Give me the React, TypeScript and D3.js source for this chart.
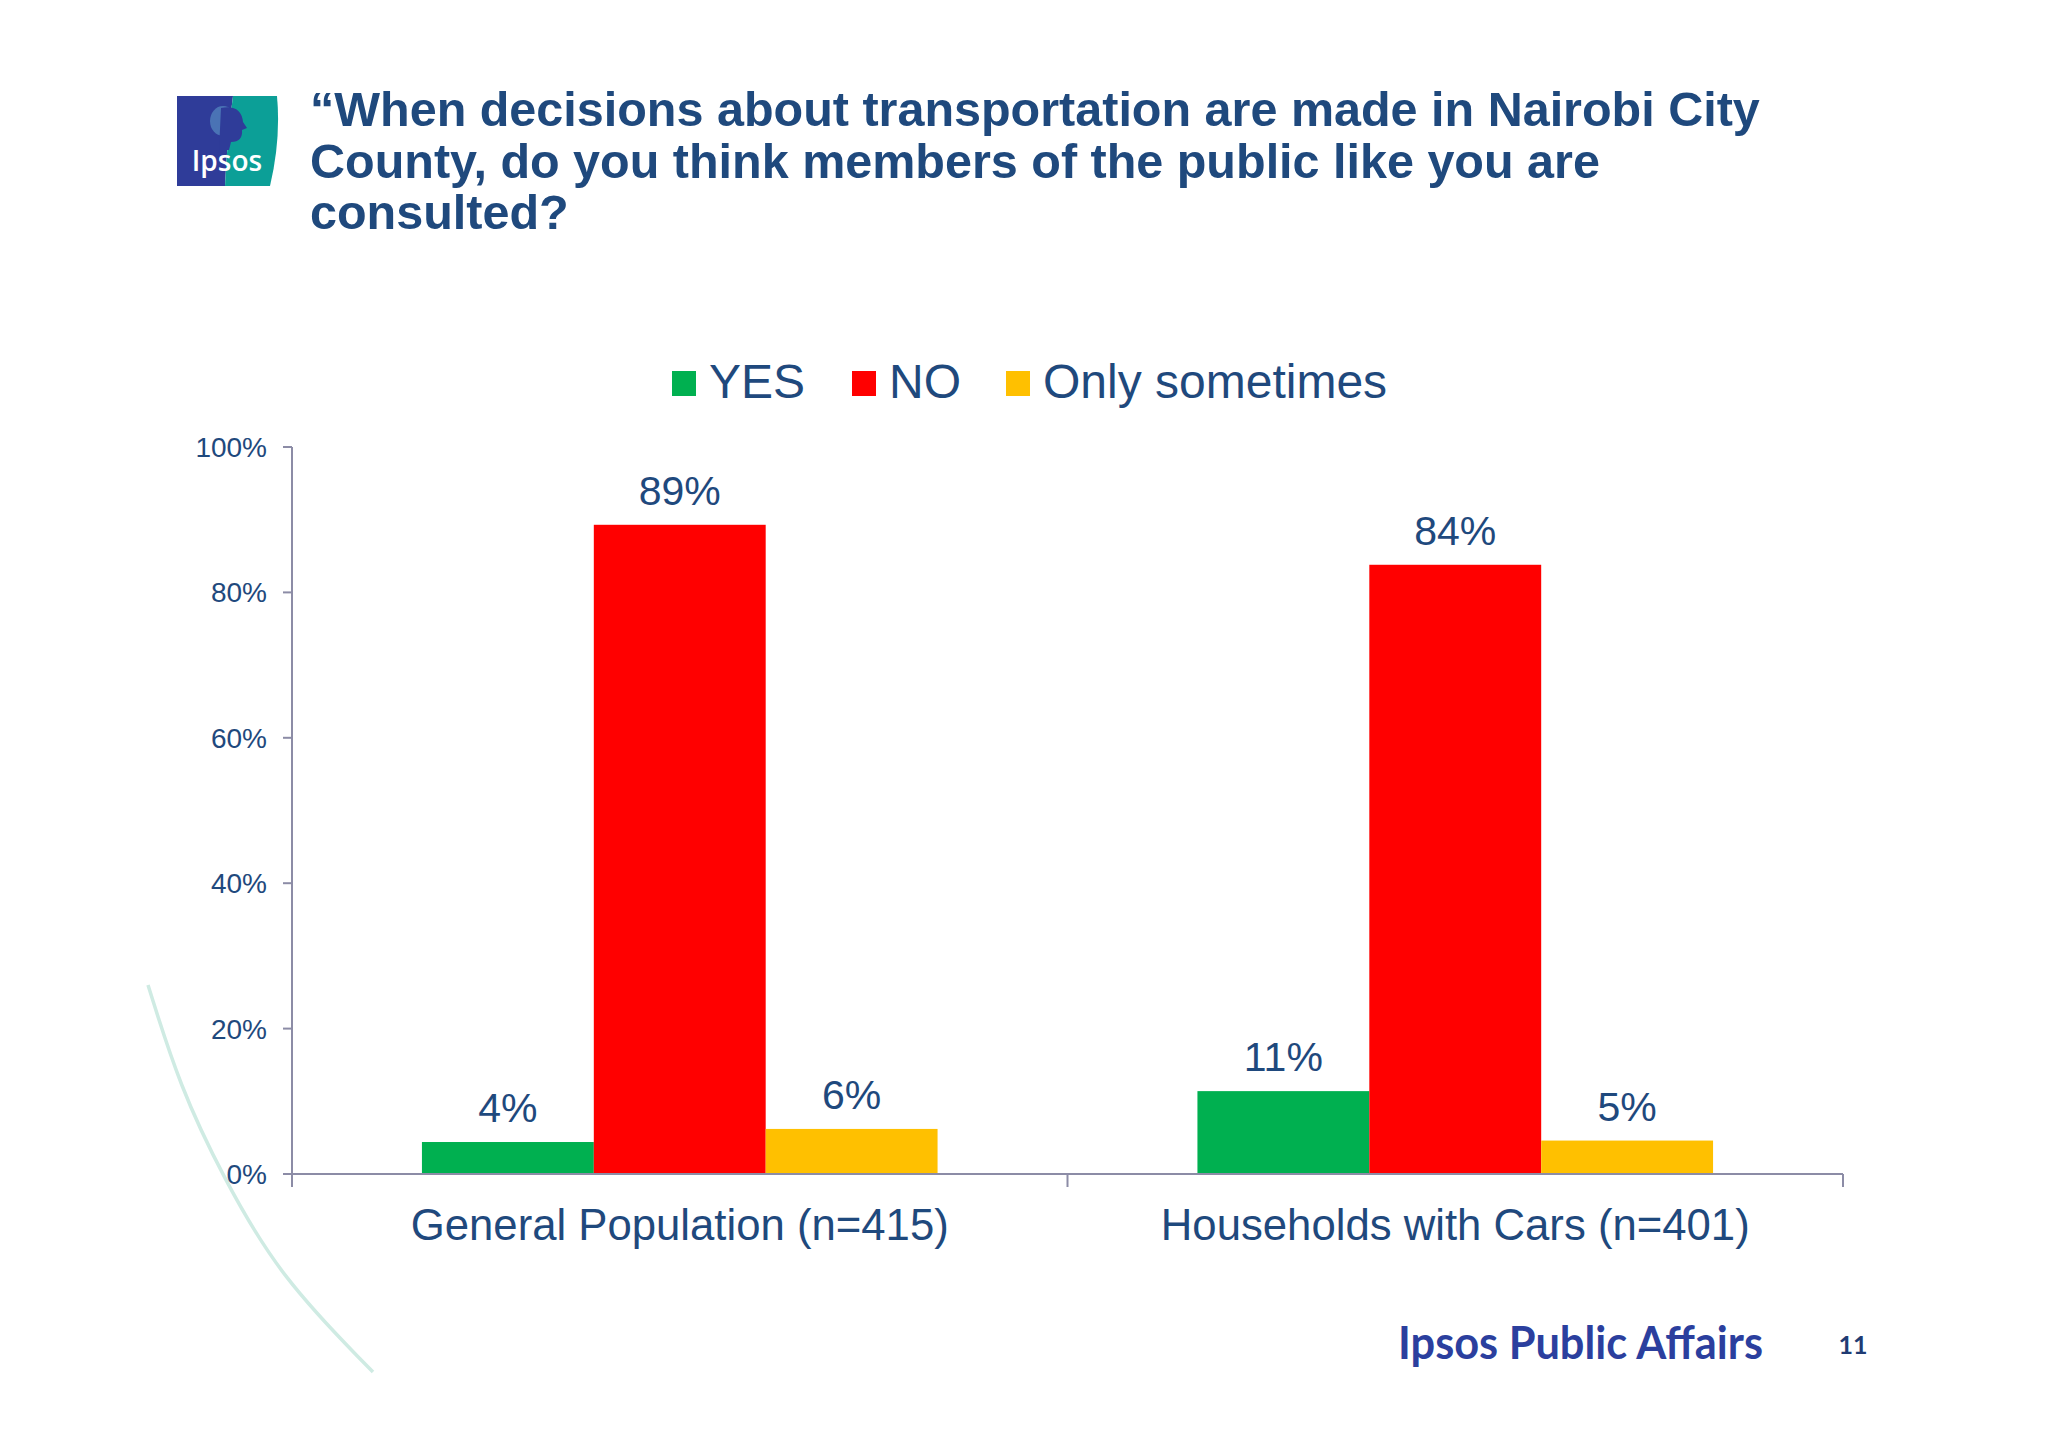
import { useEffect, useRef } from "react";
import * as d3 from "d3";

const CATEGORIES = ["General Population (n=415)", "Households with Cars (n=401)"];
const SERIES = ["YES", "NO", "Only sometimes"];
const COLORS = ["#00B050", "#FF0000", "#FFC000"];
// values per category, in SERIES order (percent)
const GENERAL_POP = [4.4, 89.3, 6.2];
const HOUSEHOLDS_CARS = [11.4, 83.8, 4.6];
const Y_TICKS = [0, 20, 40, 60, 80, 100];

const TITLE_LINES = [
  "\u201CWhen decisions about transportation are made in Nairobi City",
  "County, do you think members of the public like you are",
  "consulted?",
];

const W = 2048;
const H = 1447;
const BLUE = "#1F497D";
const AXIS = "#8C8CA6";
const FONT = "'Liberation Sans', Arial, sans-serif";

export default function App() {
  const ref = useRef<SVGSVGElement | null>(null);

  useEffect(() => {
    document.body.style.margin = "0";
    const svg = d3.select(ref.current);
    svg.selectAll("*").remove();

    svg.append("rect").attr("width", W).attr("height", H).attr("fill", "#ffffff");

    // decorative arc on the left
    const arc = d3.line().curve(d3.curveBasis);
    svg
      .append("path")
      .attr(
        "d",
        arc([
          [148, 985],
          [180, 1087],
          [223, 1177],
          [280, 1277],
          [373, 1372],
        ]),
      )
      .attr("fill", "none")
      .attr("stroke", "#CFEBE3")
      .attr("stroke-width", 3.5);

    // logo
    const logo = svg.append("g").attr("transform", "translate(3,0)");
    logo
      .append("path")
      .attr("d", "M174,96 L230,96 Q224,140 222,186 L174,186 Z")
      .attr("fill", "#2F3C99");
    logo
      .append("path")
      .attr("d", "M230,96 L274,96 Q278,140 267,186 L222,186 Q224,140 230,96 Z")
      .attr("fill", "#0C9F97");
    logo
      .append("ellipse")
      .attr("cx", 220)
      .attr("cy", 121)
      .attr("rx", 13)
      .attr("ry", 15)
      .attr("fill", "#4E79B8")
      .attr("opacity", 0.9);
    logo
      .append("path")
      .attr("d", "M218,108 Q238,104 240,122 L244,128 L239,130 Q240,142 228,142 L226,150 L216,150 Z")
      .attr("fill", "#2F3C99");
    logo
      .append("text")
      .attr("x", 224)
      .attr("y", 171)
      .attr("text-anchor", "middle")
      .attr("fill", "#ffffff")
      .attr("font-family", "'Open Sans', sans-serif")
      .attr("font-weight", 600)
      .attr("font-size", 28)
      .text("Ipsos");

    // title
    svg
      .append("g")
      .selectAll("text")
      .data(TITLE_LINES)
      .join("text")
      .attr("x", 310)
      .attr("y", (_, i) => 126 + i * 51.5)
      .attr("fill", BLUE)
      .attr("font-family", FONT)
      .attr("font-weight", "bold")
      .attr("font-size", 48.5)
      .text((d) => d);

    // legend
    const legendX = [672, 852, 1006];
    const lg = svg.append("g");
    SERIES.forEach((s, i) => {
      lg.append("rect")
        .attr("x", legendX[i])
        .attr("y", 371)
        .attr("width", 24)
        .attr("height", 25)
        .attr("fill", COLORS[i]);
      lg.append("text")
        .attr("x", legendX[i] + 37)
        .attr("y", 398)
        .attr("fill", BLUE)
        .attr("font-family", FONT)
        .attr("font-size", 48)
        .text(s);
    });

    // scales
    const x0 = d3.scaleBand<string>().domain(CATEGORIES).range([292, 1843]).padding(0);
    const x1 = d3
      .scaleBand<string>()
      .domain(SERIES)
      .range([0, x0.bandwidth()])
      .paddingInner(0)
      .paddingOuter(0.756);
    const y = d3.scaleLinear().domain([0, 100]).range([1174, 447]);

    // y axis
    const ya = svg.append("g");
    ya.append("line")
      .attr("x1", 292)
      .attr("x2", 292)
      .attr("y1", y(100))
      .attr("y2", y(0) + 13)
      .attr("stroke", AXIS)
      .attr("stroke-width", 2);
    ya.selectAll("line.tick")
      .data(Y_TICKS)
      .join("line")
      .attr("class", "tick")
      .attr("x1", 283)
      .attr("x2", 292)
      .attr("y1", (d) => y(d))
      .attr("y2", (d) => y(d))
      .attr("stroke", AXIS)
      .attr("stroke-width", 2);
    ya.selectAll("text")
      .data(Y_TICKS)
      .join("text")
      .attr("x", 267)
      .attr("y", (d) => y(d) + 10)
      .attr("text-anchor", "end")
      .attr("fill", BLUE)
      .attr("font-family", FONT)
      .attr("font-size", 28)
      .text((d) => `${d}%`);

    // bars
    const groups = [GENERAL_POP, HOUSEHOLDS_CARS];
    const bars = svg.append("g");
    groups.forEach((vals, ci) => {
      const cat = CATEGORIES[ci];
      const gx = x0(cat) ?? 0;
      vals.forEach((v, si) => {
        const bx = gx + (x1(SERIES[si]) ?? 0);
        bars
          .append("rect")
          .attr("x", bx)
          .attr("y", y(v))
          .attr("width", x1.bandwidth())
          .attr("height", y(0) - y(v))
          .attr("fill", COLORS[si]);
        bars
          .append("text")
          .attr("x", bx + x1.bandwidth() / 2)
          .attr("y", y(v) - 20)
          .attr("text-anchor", "middle")
          .attr("fill", BLUE)
          .attr("font-family", FONT)
          .attr("font-size", 41)
          .text(`${Math.round(v)}%`);
      });
    });

    // x axis
    const xa = svg.append("g");
    xa.append("line")
      .attr("x1", 292)
      .attr("x2", 1843)
      .attr("y1", y(0))
      .attr("y2", y(0))
      .attr("stroke", AXIS)
      .attr("stroke-width", 2);
    const xTicks = [...CATEGORIES.map((c) => x0(c) ?? 0), 1843];
    xa.selectAll("line.tick")
      .data(xTicks)
      .join("line")
      .attr("class", "tick")
      .attr("x1", (d) => d)
      .attr("x2", (d) => d)
      .attr("y1", y(0))
      .attr("y2", y(0) + 13)
      .attr("stroke", AXIS)
      .attr("stroke-width", 2);
    xa.selectAll("text")
      .data(CATEGORIES)
      .join("text")
      .attr("x", (d) => (x0(d) ?? 0) + x0.bandwidth() / 2)
      .attr("y", 1240)
      .attr("text-anchor", "middle")
      .attr("fill", BLUE)
      .attr("font-family", FONT)
      .attr("font-size", 43.7)
      .text((d) => d);

    // footer
    svg
      .append("text")
      .attr("x", 1398)
      .attr("y", 1359)
      .attr("fill", "#2B3F9E")
      .attr("font-family", "Lato, 'Open Sans', sans-serif")
      .attr("font-weight", "bold")
      .attr("font-size", 46)
      .attr("textLength", 365)
      .attr("lengthAdjust", "spacingAndGlyphs")
      .text("Ipsos Public Affairs");
    svg
      .append("text")
      .attr("x", 1853)
      .attr("y", 1354)
      .attr("text-anchor", "middle")
      .attr("fill", "#1F3B73")
      .attr("font-family", "Lato, sans-serif")
      .attr("font-weight", "bold")
      .attr("font-size", 25)
      .text("11");
  }, []);

  return <svg ref={ref} width={W} height={H} style={{ display: "block" }} />;
}
